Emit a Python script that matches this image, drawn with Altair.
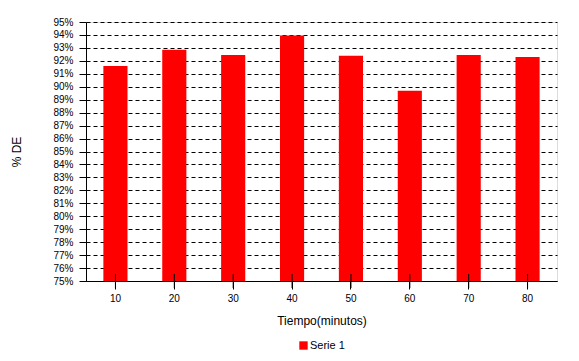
import altair as alt
import pandas as pd

tiempos = ["10", "20", "30", "40", "50", "60", "70", "80"]
valores = [91.6, 92.85, 92.45, 93.95, 92.4, 89.7, 92.45, 92.3]
serie = ["Serie 1"] * len(tiempos)
y_ticks = list(range(75, 96))
y_min, y_max = 75, 95

df = pd.DataFrame({"Tiempo": tiempos, "DE": valores, "Serie": serie})
FONT = "Liberation Sans"

x_axis = alt.Axis(title="Tiempo(minutos)", labelAngle=0, tickSize=8,
                  labelPadding=4, titlePadding=12, labelFontSize=10,
                  titleFontSize=12, titleFontWeight="normal",
                  domainColor="black", tickColor="black",
                  labelColor="black", titleColor="black",
                  labelFont=FONT, titleFont=FONT)
x_scale = alt.Scale(paddingInner=0.59, paddingOuter=0.295)
y_scale = alt.Scale(domain=[y_min, y_max], nice=False, zero=False)
y_axis = alt.Axis(title="% DE", values=y_ticks, zindex=0,
                  labelExpr="datum.value + '%'", labelOverlap=False,
                  tickSize=7, labelPadding=6, titlePadding=29,
                  labelFontSize=10, titleFontSize=12,
                  titleFontWeight="normal",
                  grid=True, gridDash=[4, 3], gridColor="black",
                  gridOpacity=1, domainColor="black", tickColor="black",
                  labelColor="black", titleColor="black",
                  labelFont=FONT, titleFont=FONT)

bars = alt.Chart(df).mark_bar(color="#ff0000", opacity=1).encode(
    x=alt.X("Tiempo:N", sort=tiempos, scale=x_scale, axis=x_axis),
    y=alt.Y("DE:Q", scale=y_scale, axis=y_axis),
    y2=alt.Y2Datum(y_min),
    color=alt.Color("Serie:N", scale=alt.Scale(range=["#ff0000"]),
                    legend=alt.Legend(title=None, orient="none", legendX=212,
                                      legendY=318, symbolType="square",
                                      symbolSize=70, symbolStrokeWidth=0,
                                      symbolOpacity=1,
                                      labelFontSize=11, labelFont=FONT,
                                      labelColor="black", labelOffset=1)),
)

inner_ticks = alt.Chart(df).mark_tick(orient="vertical", size=14, thickness=1,
                                      color="black", opacity=1).encode(
    x=alt.X("Tiempo:N", sort=tiempos, scale=x_scale, axis=x_axis),
    y=alt.YDatum(y_min, scale=y_scale, axis=y_axis),
)

chart = alt.layer(bars, inner_ticks).properties(
    width=471, height=259,
    autosize=alt.AutoSizeParams(type="none"),
    padding={"left": 78, "top": 14, "right": 14, "bottom": 72},
).configure_view(stroke="black", strokeWidth=1).configure(background="white")

chart.save("out.html", embed_options={"renderer": "svg", "actions": False})
